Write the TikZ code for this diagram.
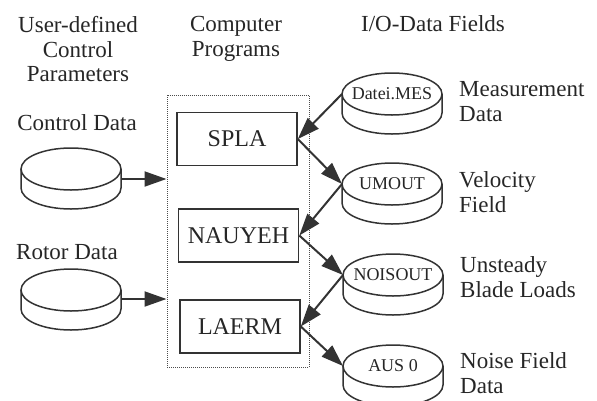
\documentclass[tikz,border=0pt]{standalone}
\usepackage{fontspec}
\setmainfont{Liberation Serif}
\usetikzlibrary{calc, positioning}
\usetikzlibrary{arrows.meta}
\usetikzlibrary{shapes.geometric}

\begin{document}
\begin{tikzpicture}[x=1pt, y=1pt,
  every node/.style={font=\fontsize{23}{24.5}\selectfont, text=black!85, inner sep=0pt},
  prog/.style={draw=black!80, line width=1.6pt, minimum width=120pt, minimum height=53pt,
    font=\fontsize{24}{24}\selectfont},
  disk/.style={ellipse, draw=black!80, line width=1.5pt, minimum width=100pt, minimum height=42pt,
    inner xsep=-8pt, inner ysep=0pt, outer sep=0pt, font=\fontsize{18}{18}\selectfont},
  diskside/.style={draw=black!80, line width=1.5pt},
  flow/.style={-{Triangle[length=22pt,width=15pt]}, line width=2pt, draw=black!80},
]
\def\rx{50}
\def\ry{21}
\def\dep{19}

\useasboundingbox (0,0) rectangle (597,-400);

% column headings
\node[align=center, anchor=north] (hpar) at (78,-16.5) {User-defined\\Control\\Parameters};
\node[align=center, anchor=north] (hprog) at (236,-16.5) {Computer\\Programs};
\node[anchor=base] (hio) at (433,-31) {I/O-Data Fields};

% programs
\node[draw=black!70, line width=1pt, densely dotted, minimum width=142pt, minimum height=272pt] (progs) at (238,-231) {};
\node[prog] (spla) at (237,-139) {SPLA};
\node[prog] (nauyeh) at (238.5,-235.5) {NAUYEH};
\node[prog] (laerm) at (240,-326.5) {LAERM};

% data files
\node[disk] (ctrl) at (71,-169) {};
\node[disk] (rotor) at (71,-290) {};
\node[disk] (mes) at (392,-94) {Datei.MES};
\node[disk] (umout) at (392,-184) {UMOUT};
\node[disk] (noisout) at (393,-275) {NOISOUT};
\node[disk] (aus) at (393,-366) {AUS 0};

\foreach \d in {ctrl, rotor, mes, umout, noisout, aus}
  \draw[diskside] (\d.west) -- ++(0,-\dep)
    arc[start angle=180, end angle=360, x radius=\rx, y radius=\ry] -- (\d.east);

\node[anchor=base] (lctrl) at (77,-130) {Control Data};
\node[anchor=base] (lrotor) at (67,-259) {Rotor Data};
\node[align=left, anchor=north west] (lmes) at (459,-81.5) {Measurement\\Data};
\node[align=left, anchor=north west] (lvel) at (459,-171.5) {Velocity\\Field};
\node[align=left, anchor=north west] (lblade) at (460,-256.5) {Unsteady\\Blade Loads};
\node[align=left, anchor=north west] (lnoise) at (460,-352.5) {Noise Field\\Data};

% flow of data
\coordinate (ctrlout) at ($(ctrl.east)+(0,-10)$);
\coordinate (rotorout) at ($(rotor.east)+(0,-9)$);
\draw[flow] (ctrlout) -- (ctrlout -| progs.west);
\draw[flow] (rotorout) -- (rotorout -| progs.west);

\draw[flow] (mes.west) -- (spla.east);
\draw[flow] (spla.east) -- (umout.west);
\draw[flow] (umout.west) -- (nauyeh.east);
\draw[flow] (nauyeh.east) -- (noisout.west);
\draw[flow] (noisout.west) -- (laerm.east);
\draw[flow] (laerm.east) -- (aus.west);
\end{tikzpicture}
\end{document}
